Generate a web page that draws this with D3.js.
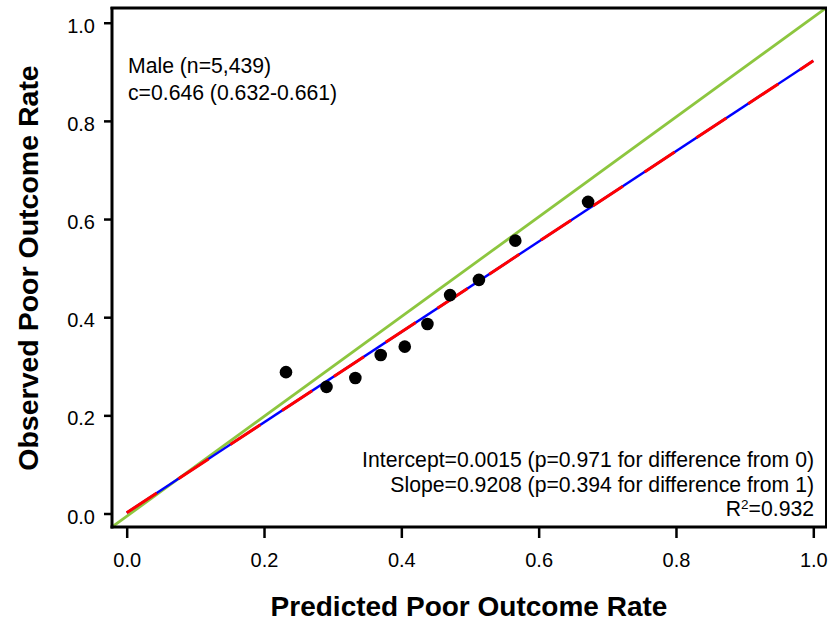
<!DOCTYPE html>
<html>
<head>
<meta charset="utf-8">
<script src="https://cdn.jsdelivr.net/npm/d3@7"></script>
<style>
  html, body { margin: 0; padding: 0; background: #fff; }
  svg { display: block; }
  text { font-family: "Liberation Sans", Arial, Helvetica, sans-serif; fill: #000; }
</style>
</head>
<body>
<svg id="chart" width="828" height="625"></svg>
<script>
// ---- Data ----
const predicted = [0.232, 0.291, 0.333, 0.370, 0.405, 0.438, 0.471, 0.513, 0.566, 0.672];
const observed  = [0.288, 0.258, 0.276, 0.323, 0.340, 0.386, 0.445, 0.476, 0.556, 0.635];
const fitIntercept = 0.0015;
const fitSlope = 0.9208;
const xTicks = [0.0, 0.2, 0.4, 0.6, 0.8, 1.0];
const yTicks = [0.0, 0.2, 0.4, 0.6, 0.8, 1.0];
const topLabels = ["Male (n=5,439)", "c=0.646 (0.632-0.661)"];
const bottomLabels = [
  "Intercept=0.0015 (p=0.971 for difference from 0)",
  "Slope=0.9208 (p=0.394 for difference from 1)"
];
const r2Label = "0.932";
const xTitle = "Predicted Poor Outcome Rate";
const yTitle = "Observed Poor Outcome Rate";

// ---- Layout ----
const pL = 112, pR = 826, pT = 8, pB = 527;
const svg = d3.select("#chart");

const x = d3.scaleLinear().domain([-0.0214, 1.0185]).range([pL, pR]);
const y = d3.scaleLinear().domain([-0.0275, 1.030]).range([pB, pT]);

svg.append("defs").append("clipPath").attr("id", "plotclip")
  .append("rect").attr("x", pL).attr("y", pT).attr("width", pR - pL).attr("height", pB - pT);

const plot = svg.append("g").attr("clip-path", "url(#plotclip)");

// reference diagonal (plot corner to corner)
const xd = x.domain(), yd = y.domain();
plot.append("line")
  .attr("x1", x(xd[0])).attr("y1", y(yd[0]))
  .attr("x2", x(xd[1])).attr("y2", y(yd[1]))
  .attr("stroke", "#8dc63f").attr("stroke-width", 2.8);

// fitted line: blue solid + red dashed
const fitPts = [0, 1].map(v => [x(v), y(fitIntercept + fitSlope * v)]);
const lineGen = d3.line();
plot.append("path").attr("d", lineGen(fitPts))
  .attr("fill", "none").attr("stroke", "#0000ff").attr("stroke-width", 2.4);
plot.append("path").attr("d", lineGen(fitPts))
  .attr("fill", "none").attr("stroke", "#ff0000").attr("stroke-width", 3)
  .attr("stroke-dasharray", "36,26");

// points
plot.selectAll("circle.pt").data(predicted.map((p, i) => [p, observed[i]]))
  .enter().append("circle").attr("class", "pt")
  .attr("cx", d => x(d[0])).attr("cy", d => y(d[1]))
  .attr("r", 6.3).attr("fill", "#000");

// frame
svg.append("rect").attr("x", pL).attr("y", pT).attr("width", pR - pL).attr("height", pB - pT)
  .attr("fill", "none").attr("stroke", "#000").attr("stroke-width", 2);
svg.append("line").attr("x1", pL - 1.5).attr("x2", pR + 1).attr("y1", pT).attr("y2", pT)
  .attr("stroke", "#000").attr("stroke-width", 3);
svg.append("line").attr("x1", pL).attr("x2", pL).attr("y1", pT - 1).attr("y2", pB + 1.5)
  .attr("stroke", "#000").attr("stroke-width", 3);
svg.append("line").attr("x1", pL - 1.5).attr("x2", pR + 1).attr("y1", pB).attr("y2", pB)
  .attr("stroke", "#000").attr("stroke-width", 3);

// axes
const xAxis = d3.axisBottom(x).tickValues(xTicks).tickFormat(d3.format(".1f")).tickSize(11).tickPadding(6);
const gx = svg.append("g").attr("transform", `translate(0,${pB})`).call(xAxis);
gx.select(".domain").remove();
gx.selectAll(".tick line").attr("stroke", "#000").attr("stroke-width", 2.5);
gx.selectAll(".tick text").attr("font-size", 20).attr("fill", "#000")
  .attr("font-family", "Liberation Sans, Arial, sans-serif").attr("dy", null).attr("y", 40);

const yAxis = d3.axisLeft(y).tickValues(yTicks).tickFormat(d3.format(".1f")).tickSize(8).tickPadding(6);
const gy = svg.append("g").attr("transform", `translate(${pL},0)`).call(yAxis);
gy.select(".domain").remove();
gy.selectAll(".tick line").attr("stroke", "#000").attr("stroke-width", 2.5);
gy.selectAll(".tick text").attr("font-size", 20).attr("fill", "#000")
  .attr("font-family", "Liberation Sans, Arial, sans-serif").attr("dy", null).attr("y", 9.5).attr("x", -17);

// annotations
svg.selectAll("text.tl").data(topLabels).enter().append("text").attr("class", "tl")
  .attr("x", 128).attr("y", (d, i) => 73 + i * 27)
  .attr("font-size", 21.2).text(d => d);

svg.selectAll("text.br").data(bottomLabels).enter().append("text").attr("class", "br")
  .attr("x", 814).attr("y", (d, i) => 467 + i * 24.5)
  .attr("text-anchor", "end").attr("font-size", 21.2).text(d => d);

const r2 = svg.append("text").attr("x", 814).attr("y", 516).attr("text-anchor", "end").attr("font-size", 21.2);
r2.append("tspan").text("R");
r2.append("tspan").attr("font-size", 13.5).attr("dy", -7).text("2");
r2.append("tspan").attr("dy", 7).text("=" + r2Label);

// titles
svg.append("text").attr("x", 469).attr("y", 616)
  .attr("text-anchor", "middle").attr("font-size", 28).attr("font-weight", "bold").text(xTitle);

svg.append("text").attr("transform", `translate(38,268) rotate(-90)`)
  .attr("text-anchor", "middle").attr("font-size", 28.5).attr("font-weight", "bold").text(yTitle);
</script>
</body>
</html>
